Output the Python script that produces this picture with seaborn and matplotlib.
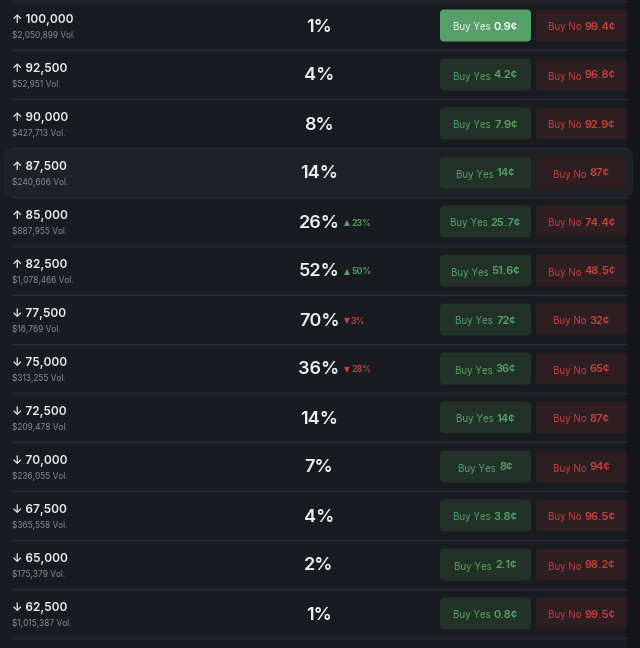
import matplotlib.pyplot as plt
import seaborn as sns
from matplotlib.patches import FancyBboxPatch

# --- data ---
strikes = ['100,000', '92,500', '90,000', '87,500', '85,000', '82,500', '77,500',
           '75,000', '72,500', '70,000', '67,500', '65,000', '62,500']
directions = ['up', 'up', 'up', 'up', 'up', 'up', 'down',
              'down', 'down', 'down', 'down', 'down', 'down']
volumes = ['2,050,899', '52,951', '427,713', '240,606', '887,955', '1,078,466', '16,769',
           '313,255', '209,478', '236,055', '365,558', '175,379', '1,015,387']
chances = [1, 4, 8, 14, 26, 52, 70, 36, 14, 7, 4, 2, 1]
changes = [None, None, None, None, 23, 50, -3, -28, None, None, None, None, None]
yes_prices = ['0.9', '4.2', '7.9', '14', '25.7', '51.6', '72', '36', '14', '8', '3.8', '2.1', '0.8']
no_prices = ['99.4', '96.8', '92.9', '87', '74.4', '48.5', '32', '65', '87', '94', '96.5', '98.2', '99.5']
HOVER_ROW = 3
ACTIVE_ROW = 0

# --- colours ---
BG = '#181b20'
HOVER_BG = '#1e2126'
LINE = '#2a2e34'
STRIP = '#141619'
WHITE = '#eceef0'
GREY = '#868b93'
GREEN = '#55a264'
GREEN_BG = '#223228'
GREEN_ACTIVE = '#56a068'
RED = '#c8403f'
RED_BG = '#2d1e21'

ROW_H = 49
ROW_TOP = 25.5
W, H = 640, 648

sns.set_theme(style='dark', rc={'figure.facecolor': BG, 'axes.facecolor': BG})
plt.rcParams['font.family'] = ['Inter', 'DejaVu Sans']

fig = plt.figure(figsize=(W / 100, H / 100), dpi=100)
ax = fig.add_axes([0, 0, 1, 1])
ax.set_xlim(0, W)
ax.set_ylim(H, 0)
ax.axis('off')
renderer = fig.canvas.get_renderer()

ax.axvspan(627, W, color=STRIP, lw=0)

centers = [ROW_TOP + ROW_H * i for i in range(len(strikes))]


def button(x0, width, yc, face, label, value, label_col, value_col):
    ax.add_patch(FancyBboxPatch((x0, yc - 16), width, 32,
                                boxstyle='round,pad=0,rounding_size=4',
                                fc=face, ec='none', zorder=2))
    t1 = ax.text(0, yc + 2, label, fontsize=7, color=label_col, va='center', ha='left', zorder=3)
    t2 = ax.text(0, yc + 1, value + '¢', fontsize=8, fontweight='semibold', color=value_col,
                 va='center', ha='left', zorder=3)
    w1 = t1.get_window_extent(renderer).width
    w2 = t2.get_window_extent(renderer).width
    gap = 3
    start = x0 + width / 2 - (w1 + gap + w2) / 2
    t1.set_x(start)
    t2.set_x(start + w1 + gap)


# hovered row background
yc = centers[HOVER_ROW]
ax.add_patch(FancyBboxPatch((4, yc - 24), 629, 48, boxstyle='round,pad=0,rounding_size=7',
                            fc=HOVER_BG, ec='none', zorder=1))

# separators
seps = [c - ROW_H / 2 for c in centers] + [centers[-1] + ROW_H / 2]
ax.hlines(seps, 12, 627, color=LINE, lw=1, zorder=1.5)

for i, yc in enumerate(centers):
    arrow = '↑' if directions[i] == 'up' else '↓'
    ax.text(12, yc - 5.5, f'{arrow} {strikes[i]}', fontsize=8.5, fontweight='semibold',
            color=WHITE, va='center', ha='left', zorder=3)
    ax.text(12, yc + 10, f'${volumes[i]} Vol.', fontsize=6, color=GREY,
            va='center', ha='left', zorder=3)

    ax.text(319, yc + 1.5, f'{chances[i]}%', fontsize=13, fontweight='semibold', color=WHITE,
            va='center', ha='center', zorder=3)

    ch = changes[i]
    if ch is not None:
        col = GREEN if ch > 0 else RED
        tri = '▲' if ch > 0 else '▼'
        ax.text(343.5, yc + 1.5, tri, fontsize=5.5, color=col, va='center', ha='left',
                family='DejaVu Sans', zorder=3)
        ax.text(351, yc + 1.5, f'{abs(ch)}%', fontsize=6.3, fontweight='semibold', color=col,
                va='center', ha='left', zorder=3)

    if i == ACTIVE_ROW:
        button(440, 91, yc, GREEN_ACTIVE, 'Buy Yes', yes_prices[i], '#eaf3ec', '#ffffff')
    else:
        button(440, 91, yc, GREEN_BG, 'Buy Yes', yes_prices[i], GREEN, GREEN)
    button(536, 91, yc, RED_BG, 'Buy No', no_prices[i], RED, RED)

fig.savefig('out.png', dpi=100, facecolor=BG)
